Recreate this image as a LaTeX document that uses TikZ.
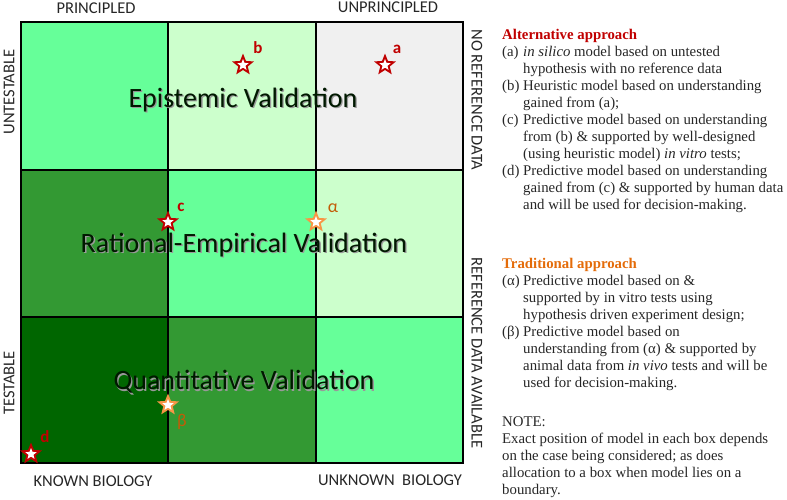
\documentclass[tikz,border=0pt]{standalone}
\usepackage{fontspec}
\setmainfont{Liberation Serif}
\newfontfamily\carl{Carlito}
\usetikzlibrary{shapes.geometric}
\definecolor{gA}{RGB}{102,255,153}
\definecolor{gB}{RGB}{204,255,204}
\definecolor{gC}{RGB}{51,153,51}
\definecolor{gD}{RGB}{0,102,0}
\definecolor{gE}{RGB}{240,240,240}
\definecolor{altred}{RGB}{192,0,0}
\definecolor{tradorange}{RGB}{228,108,10}
\definecolor{starorange}{RGB}{247,150,70}
\definecolor{bodytext}{RGB}{38,38,38}
\begin{document}
\begin{tikzpicture}[x=1pt,y=-1pt,
  cell/.style={draw=black,line width=1.6pt},
  axislabel/.style={font=\carl\fontsize{16.5}{16.5}\selectfont,text=bodytext,inner sep=0},
  biglabel/.style={font=\carl\fontsize{28}{28}\selectfont,inner sep=0},
  starout/.style={star,star points=5,star point ratio=2.3,minimum size=23pt,inner sep=0,fill=#1},
  starin/.style={star,star points=5,star point ratio=2.3,minimum size=12pt,inner sep=0,fill=white},
  redlet/.style={font=\carl\bfseries\fontsize{17}{17}\selectfont,text=altred,inner sep=0},
  orlet/.style={font=\carl\fontsize{18}{18}\selectfont,text=tradorange!85!black,inner sep=0},
  body/.style={font=\fontsize{14.8}{17}\selectfont,text=bodytext,inner sep=0,anchor=north west,align=left}
]
\useasboundingbox (0,0) rectangle (787,499);
% grid cells
\filldraw[cell,fill=gA] (21,22) rectangle (168,170);
\filldraw[cell,fill=gB] (168,22) rectangle (316,170);
\filldraw[cell,fill=gE] (316,22) rectangle (463,170);
\filldraw[cell,fill=gC] (21,170) rectangle (168,317);
\filldraw[cell,fill=gA] (168,170) rectangle (316,317);
\filldraw[cell,fill=gB] (316,170) rectangle (463,317);
\filldraw[cell,fill=gD] (21,317) rectangle (168,463);
\filldraw[cell,fill=gC] (168,317) rectangle (316,463);
\filldraw[cell,fill=gA] (316,317) rectangle (463,463);

% big labels with shadow
\node[biglabel,text=black!40] (epiS) at (244.3,101.3) {Epistemic Validation};
\node[biglabel,text=black!90!green] (epi) at (243,100) {Epistemic Validation};
\node[biglabel,text=black!40] (ratS) at (245.3,246.3) {Rational-Empirical Validation};
\node[biglabel,text=black!90!green] (rat) at (244,245) {Rational-Empirical Validation};
\node[biglabel,text=black!40] (quaS) at (245.3,383.3) {Quantitative Validation};
\node[biglabel,text=black!90!green] (qua) at (244,382) {Quantitative Validation};

% stars
\node[starout=altred] (sb) at (243,65) {}; \node[starin] (sbi) at (sb) {};
\node[redlet] (lb) at (258,48) {b};
\node[starout=altred] (sa) at (385,65) {}; \node[starin] (sai) at (sa) {};
\node[redlet] (la) at (397,49) {a};
\node[starout=altred] (sc) at (168,222) {}; \node[starin] (sci) at (sc) {};
\node[redlet] (lc) at (181,207) {c};
\node[starout=starorange] (sal) at (316,222) {}; \node[starin] (sali) at (sal) {};
\node[orlet] (lal) at (333,208) {α};
\node[starout=starorange] (sbe) at (168,405) {}; \node[starin] (sbei) at (sbe) {};
\node[orlet] (lbe) at (182,422) {β};
\node[starout=altred] (sd) at (31,454) {}; \node[starin] (sdi) at (sd) {};
\node[redlet] (ld) at (45,437) {d};

% axis labels
\node[axislabel] (pr) at (96,8) {PRINCIPLED};
\node[axislabel] (unpr) at (388,7) {UNPRINCIPLED};
\node[axislabel,rotate=90] (unt) at (9,92) {UNTESTABLE};
\node[axislabel,rotate=90] (tes) at (9,383) {TESTABLE};
\node[axislabel] (kb) at (93,481) {KNOWN BIOLOGY};
\node[axislabel] (ukb) at (390,480) {UNKNOWN\ \ BIOLOGY};
\node[axislabel,rotate=-90] (nrd) at (477,100) {NO REFERENCE DATA};
\node[axislabel,rotate=-90] (rda) at (477,353) {REFERENCE DATA AVAILABLE};

% right text
\node[body] (alt) at (502,29) {%
{\color{altred}\bfseries Alternative approach}\\
\makebox[21pt][l]{(a)}\textit{in silico} model based on untested\\
\hspace*{21pt}hypothesis with no reference data\\
\makebox[21pt][l]{(b)}Heuristic model based on understanding\\
\hspace*{21pt}gained from (a);\\
\makebox[21pt][l]{(c)}Predictive model based on understanding\\
\hspace*{21pt}from (b) \& supported by well-designed\\
\hspace*{21pt}(using heuristic model) \textit{in vitro} tests;\\
\makebox[21pt][l]{(d)}Predictive model based on understanding\\
\hspace*{21pt}gained from (c) \& supported by human data\\
\hspace*{21pt}and will be used for decision-making.};

\node[body] (trad) at (502,258) {%
{\color{tradorange}\bfseries Traditional approach}\\
\makebox[21pt][l]{(α)}Predictive model based on \&\\
\hspace*{21pt}supported by in vitro tests using\\
\hspace*{21pt}hypothesis driven experiment design;\\
\makebox[21pt][l]{(β)}Predictive model based on\\
\hspace*{21pt}understanding from (α) \& supported by\\
\hspace*{21pt}animal data from \textit{in vivo} tests and will be\\
\hspace*{21pt}used for decision-making.};

\node[body] (note) at (502,416) {%
NOTE:\\
Exact position of model in each box depends\\
on the case being considered; as does\\
allocation to a box when model lies on a\\
boundary.};
\end{tikzpicture}
\end{document}
